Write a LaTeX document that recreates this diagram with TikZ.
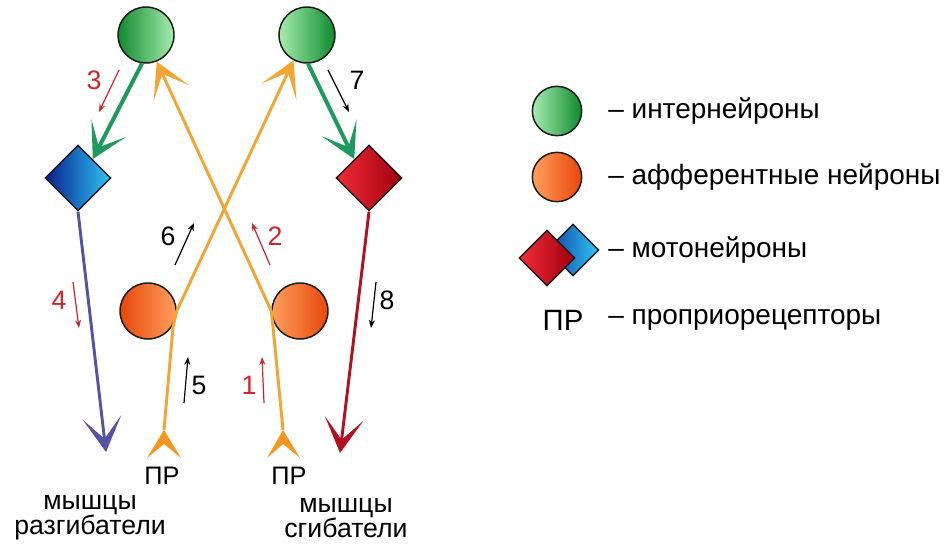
\documentclass[tikz,border=0pt]{standalone}
\usepackage{fontspec}
\setmainfont{Liberation Sans}
\usetikzlibrary{arrows.meta,shapes.geometric}

\definecolor{grdark}{HTML}{0E8A2E}
\definecolor{grlight}{HTML}{A6ECAE}
\definecolor{grline}{HTML}{1E9A5C}
\definecolor{ordark}{HTML}{E8470A}
\definecolor{orlight}{HTML}{FF9E5C}
\definecolor{affline}{HTML}{F4A531}
\definecolor{recol}{HTML}{F7951E}
\definecolor{bldark}{HTML}{0A1E8C}
\definecolor{bllight}{HTML}{2EC6F6}
\definecolor{rdlight}{HTML}{F22C38}
\definecolor{rddark}{HTML}{A0000C}
\definecolor{blline}{HTML}{5552A2}
\definecolor{rdline}{HTML}{B2101E}
\definecolor{lblred}{HTML}{D3212D}
\definecolor{outline}{HTML}{1A1A1A}

\tikzset{
  neuron/.style={circle, draw=outline, line width=1.1pt, minimum size=42pt, inner sep=0pt},
  motor/.style={diamond, aspect=1, draw=outline, line width=1.1pt, minimum size=49.5pt, inner sep=0pt},
  bigtip/.style={-{Stealth[length=26pt,width=29pt,inset=16pt]}},
  greenax/.style={bigtip, draw=grline, line width=3pt},
  affax/.style={bigtip, draw=affline, line width=2.2pt, line join=round},
  effax/.style={bigtip, line width=2.2pt},
  small/.style={-{Stealth[length=6pt,width=4.5pt]}, line width=0.9pt},
  txt/.style={font=\fontsize{20}{19}\selectfont, inner sep=0pt},
  legtxt/.style={font=\fontsize{21}{20}\selectfont, inner sep=0pt},
  pr/.style={font=\fontsize{19}{19}\selectfont, inner sep=0pt},
}

\begin{document}
\begin{tikzpicture}[x=0.75pt, y=-0.75pt]
\useasboundingbox (0,0) rectangle (944,548);

% interneurons
\node[neuron, left color=grdark, right color=grlight] (G1) at (146,35) {};
\node[neuron, left color=grlight, right color=grdark] (G2) at (307,35) {};
% motoneurons
\node[motor, left color=bldark, right color=bllight] (D1) at (78,178) {};
\node[motor, left color=rdlight, right color=rddark] (D2) at (369,178) {};
% afferent neurons
\node[neuron, left color=ordark, right color=orlight] (O1) at (148,311) {};
\node[neuron, left color=orlight, right color=ordark] (O2) at (300,311) {};

% proprioceptor endings
\coordinate (r1) at (164,430);
\coordinate (r2) at (283,430);
\fill[recol] (r1) -- ++(17,28) -- ++(-17,-14) -- ++(-17,14) -- cycle;
\fill[recol] (r2) -- ++(17,28) -- ++(-17,-14) -- ++(-16,14) -- cycle;

% afferent pathways (crossing)
\draw[affax] (r1) -- (173,327) -- (O1.east) -- (G2.242);
\draw[affax] (r2) -- (273,327) -- (O2.west) -- (G1.292);

% interneuron -> motoneuron
\draw[greenax] (G1.262) -- (D1.52);
\draw[greenax] (G2.272) -- (D2.128);

% motoneuron -> muscles
\coordinate (m1) at (106,452);
\coordinate (m2) at (340,453);
\draw[effax, draw=blline] (D1.south) -- (m1);
\draw[effax, draw=rdline] (D2.south) -- (m2);

% signal order marks
\draw[small, lblred] (264,403) -- (262,357);
\node[txt, text=lblred] (n1) at (249,385) {1};
\draw[small, lblred] (270,265) -- (252,223);
\node[txt, text=lblred] (n2) at (275,236) {2};
\draw[small, lblred] (119,70) -- (99,112);
\node[txt, text=lblred] (n3) at (94,80) {3};
\draw[small, lblred] (73,282) -- (79,328);
\node[txt, text=lblred] (n4) at (59,300) {4};
\draw[small] (184,403) -- (188,357);
\node[txt] (n5) at (199,385) {5};
\draw[small] (175,265) -- (194,223);
\node[txt] (n6) at (168,236) {6};
\draw[small] (328,70) -- (349,112);
\node[txt] (n7) at (357,80) {7};
\draw[small] (376,282) -- (371,328);
\node[txt] (n8) at (387,300) {8};

% captions
\node[pr] (p1) at (162,476) {ПР};
\node[pr] (p2) at (289,476) {ПР};
\node[txt, align=center] (mus1) at (90,518) {мышцы\\разгибатели};
\node[txt, align=center] (mus2) at (346,518) {мышцы\\сгибатели};

% legend
\node[neuron, minimum size=37pt, left color=grlight, right color=grdark] (Lg) at (557,111) {};
\node[neuron, minimum size=37pt, left color=orlight, right color=ordark] (Lo) at (557,177) {};
\node[motor, minimum size=39pt, left color=bldark!80!bllight, right color=bllight] (Lb) at (573,250) {};
\node[motor, minimum size=42pt, left color=rdlight, right color=rddark] (Lr) at (547,258) {};
\node[legtxt, font=\fontsize{22}{22}\selectfont] (Lp) at (563,320) {ПР};
\node[legtxt, anchor=west] (t1) at (608,111) {– интернейроны};
\node[legtxt, anchor=west] (t2) at (608,177) {– афферентные нейроны};
\node[legtxt, anchor=west] (t3) at (608,250) {– мотонейроны};
\node[legtxt, anchor=west] (t4) at (608,320) {– проприорецепторы};
\end{tikzpicture}
\end{document}
